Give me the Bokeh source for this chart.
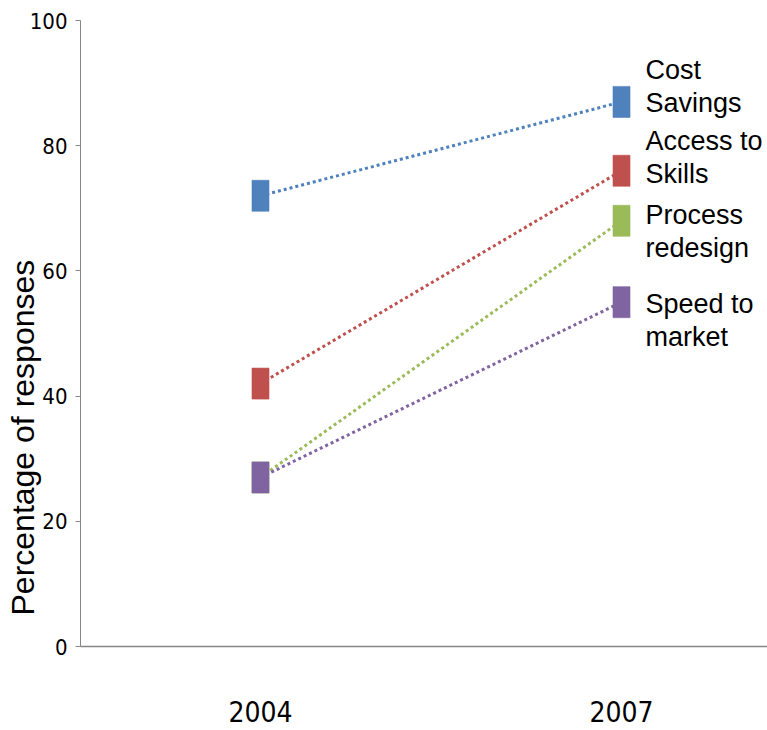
from bokeh.plotting import figure
from bokeh.models import Range1d, FixedTicker, ColumnDataSource, Title
from bokeh.embed import file_html
from bokeh.resources import INLINE
from bokeh.core.properties import value

years = ["2004", "2007"]
series = ["Cost\nSavings", "Access to\nSkills", "Process\nredesign", "Speed to\nmarket"]
values_2004 = [72, 42, 27, 27]
values_2007 = [87, 76, 68, 55]
colors = ["#4F81BD", "#C0504D", "#9BBB59", "#8064A2"]
label_offsets = [-15, -13, 11, 18]  # pixel offsets for label blocks

p = figure(width=767, height=730, output_backend="svg", toolbar_location=None,
           x_range=Range1d(-0.4986, 1.4044), y_range=Range1d(0, 100),
           min_border_left=80, min_border_right=0, min_border_top=20, min_border_bottom=84)
p.outline_line_color = None
p.xgrid.visible = False
p.ygrid.visible = False
p.background_fill_color = "white"
p.border_fill_color = "white"

xs = [0, 1]
for i in range(len(series)):
    p.line(xs, [values_2004[i], values_2007[i]], line_color=colors[i], line_width=3,
           line_dash="3 3")

for i in range(len(series)):
    p.rect(x=xs, y=[values_2004[i], values_2007[i]], width=17, height=31,
           width_units="screen", height_units="screen",
           fill_color=colors[i], line_color=colors[i], line_alpha=0.6)

src = ColumnDataSource(dict(x=[1] * len(series), y=values_2007, t=series, off=label_offsets))
p.text(x="x", y="y", text="t", source=src, x_offset=24, y_offset="off",
       text_font=value("Liberation Sans"), text_font_size="27px",
       text_baseline="middle", text_align="left", text_line_height=1.1,
       text_color="black")

# x axis
p.xaxis.ticker = FixedTicker(ticks=xs)
p.xaxis.major_label_overrides = {x: y for x, y in zip(xs, years)}
p.xaxis.major_tick_line_color = None
p.xaxis.minor_tick_line_color = None
p.xaxis.axis_line_color = "#868686"
p.xaxis.axis_line_width = 1.5
p.xaxis.major_label_standoff = 48
p.xaxis.major_label_text_font = "DejaVu Sans Condensed"
p.xaxis.major_label_text_font_size = "28px"
p.xaxis.major_label_text_color = "black"

# y axis
p.yaxis.ticker = FixedTicker(ticks=[0, 20, 40, 60, 80, 100])
p.yaxis.axis_line_color = "#868686"
p.yaxis.axis_line_width = 1
p.yaxis.major_tick_line_color = "#868686"
p.yaxis.major_tick_out = 5
p.yaxis.major_tick_in = 0
p.yaxis.minor_tick_line_color = None
p.yaxis.major_label_standoff = 8
p.yaxis.major_label_text_font = "DejaVu Sans Condensed"
p.yaxis.major_label_text_font_size = "22px"
p.yaxis.major_label_text_color = "black"

ytitle = Title(text="Percentage of responses", align="left", offset=31, standoff=-28,
               text_font="Liberation Sans", text_font_size="32px",
               text_font_style="normal", text_color="black")
p.add_layout(ytitle, "left")

open("out.html", "w").write(file_html(p, INLINE))
